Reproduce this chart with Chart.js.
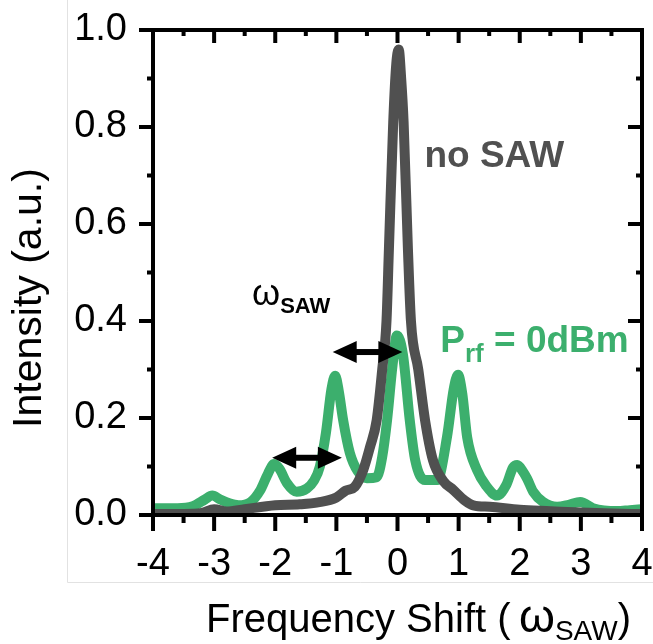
<!DOCTYPE html>
<html>
<head>
<meta charset="utf-8">
<title>Frequency Shift spectrum</title>
<script src="https://cdn.jsdelivr.net/npm/chart.js@4.4.1/dist/chart.umd.min.js"></script>
<style>
  html, body { margin: 0; padding: 0; background: #fff; }
  #wrap { width: 653px; height: 644px; }
</style>
</head>
<body>
<div id="wrap"><canvas id="spec" width="653" height="644"></canvas></div>
<script>
  // tick values
  var xMajor = [-4, -3, -2, -1, 0, 1, 2, 3, 4];
  var xMinor = [-3.5, -2.5, -1.5, -0.5, 0.5, 1.5, 2.5, 3.5];
  var yMajor = [0, 0.2, 0.4, 0.6, 0.8, 1.0];
  var yMinor = [0.1, 0.3, 0.5, 0.7, 0.9];

  // no SAW (grey)
  var noSawX = [-4, -3.5, -3.2, -3.0, -2.8, -2.5, -2.0, -1.6, -1.3, -1.0, -0.85, -0.7, -0.56, -0.45,
    -0.34, -0.25, -0.18, -0.14, -0.07, -0.02, 0.02, 0.06, 0.1, 0.17, 0.22, 0.34, 0.45, 0.58, 0.75,
    0.91, 1.1, 1.24, 1.51, 2.0, 2.5, 3.0, 3.5, 4.0];
  var noSawY = [0.002, 0.002, 0.004, 0.012, 0.007, 0.012, 0.02, 0.022, 0.026, 0.036, 0.05, 0.058, 0.093, 0.14,
    0.196, 0.3, 0.4, 0.55, 0.81, 0.93, 0.96, 0.9, 0.81, 0.55, 0.4, 0.3, 0.196, 0.113, 0.07,
    0.052, 0.03, 0.02, 0.017, 0.011, 0.008, 0.005, 0.003, 0.002];

  // Prf = 0dBm (green)
  var rfX = [-4, -3.6, -3.35, -3.15, -3.03, -2.9, -2.75, -2.6, -2.4, -2.25, -2.12, -2.02, -1.93, -1.81,
    -1.65, -1.48, -1.37, -1.27, -1.17, -1.08, -1.02, -0.96, -0.89, -0.78, -0.65, -0.5, -0.34, -0.25,
    -0.17, -0.08, -0.01, 0.09, 0.2, 0.29, 0.45, 0.65, 0.81, 0.92, 0.99, 1.06, 1.14, 1.3, 1.45, 1.63,
    1.78, 1.89, 1.96, 2.05, 2.12, 2.22, 2.38, 2.61, 2.8, 2.99, 3.2, 3.59, 3.8, 4.0];
  var rfY = [0.014, 0.014, 0.018, 0.032, 0.04, 0.032, 0.024, 0.02, 0.027, 0.05, 0.085, 0.105, 0.095, 0.066,
    0.048, 0.055, 0.07, 0.1, 0.17, 0.26, 0.287, 0.255, 0.196, 0.128, 0.09, 0.076, 0.078, 0.12,
    0.196, 0.31, 0.37, 0.33, 0.196, 0.113, 0.072, 0.072, 0.161, 0.26, 0.289, 0.25, 0.16, 0.093, 0.06, 0.04,
    0.062, 0.098, 0.103, 0.09, 0.075, 0.048, 0.027, 0.017, 0.021, 0.027, 0.014, 0.008, 0.01, 0.012];

  // double arrows (data units): x start, x end, y
  var arrowFrom = [-1.06, -2.05];
  var arrowTo = [0.08, -0.91];
  var arrowAt = [0.336, 0.118];

  var GREY = '#505050';
  var GREEN = '#3caf6d';
  var FONT = '"Liberation Sans", Arial, sans-serif';

  function pairs(xs, ys) {
    return xs.map(function (x, i) { return { x: x, y: ys[i] }; });
  }

  function setTicks(values) {
    return function (scale) {
      scale.ticks = values.map(function (v) { return { value: v }; });
    };
  }

  function drawArrow(ctx, x1, x2, y) {
    var head = 24, half = 11;
    ctx.save();
    ctx.fillStyle = '#000';
    ctx.strokeStyle = '#000';
    ctx.lineWidth = 6;
    ctx.beginPath();
    ctx.moveTo(x1 + head - 2, y);
    ctx.lineTo(x2 - head + 2, y);
    ctx.stroke();
    ctx.beginPath();
    ctx.moveTo(x1, y);
    ctx.lineTo(x1 + head, y - half);
    ctx.lineTo(x1 + head, y + half);
    ctx.closePath();
    ctx.fill();
    ctx.beginPath();
    ctx.moveTo(x2, y);
    ctx.lineTo(x2 - head, y - half);
    ctx.lineTo(x2 - head, y + half);
    ctx.closePath();
    ctx.fill();
    ctx.restore();
  }

  // text with a subscript part
  function drawSub(ctx, parts, x, y) {
    parts.forEach(function (p) {
      ctx.font = p.font;
      ctx.fillStyle = p.color;
      if (p.at != null) x = p.at;
      ctx.fillText(p.text, x, y + (p.dy || 0));
      x += ctx.measureText(p.text).width;
    });
    return x;
  }

  var backdrop = {
    id: 'backdrop',
    beforeDraw: function (chart) {
      var ctx = chart.ctx;
      ctx.save();
      ctx.strokeStyle = '#e2e2e2';
      ctx.lineWidth = 1;
      ctx.beginPath();
      ctx.moveTo(67.5, 0);
      ctx.lineTo(67.5, 582.5);
      ctx.lineTo(653, 582.5);
      ctx.stroke();
      ctx.restore();
    }
  };

  var frame = {
    id: 'frame',
    afterDatasetsDraw: function (chart) {
      var ctx = chart.ctx, a = chart.chartArea;
      var xs = chart.scales.x, ys = chart.scales.y;
      ctx.save();
      ctx.strokeStyle = '#000';
      ctx.lineWidth = 4;
      ctx.lineCap = 'butt';
      ctx.beginPath();
      function tick(x1, y1, x2, y2) { ctx.moveTo(x1, y1); ctx.lineTo(x2, y2); }
      xMajor.forEach(function (v) {
        var px = xs.getPixelForValue(v);
        tick(px, a.bottom, px, a.bottom + 16);
        tick(px, a.top, px, a.top + 13);
      });
      xMinor.forEach(function (v) {
        var px = xs.getPixelForValue(v);
        tick(px, a.bottom, px, a.bottom + 8);
        tick(px, a.top, px, a.top + 6);
      });
      yMajor.forEach(function (v) {
        var py = ys.getPixelForValue(v);
        tick(a.left, py, a.left - 14, py);
        tick(a.right, py, a.right - 14, py);
      });
      yMinor.forEach(function (v) {
        var py = ys.getPixelForValue(v);
        tick(a.left, py, a.left - 6, py);
        tick(a.right, py, a.right - 6, py);
      });
      ctx.stroke();
      ctx.strokeRect(a.left, a.top, a.right - a.left, a.bottom - a.top);
      ctx.restore();
    },
    afterDraw: function (chart) {
      var ctx = chart.ctx;
      var xs = chart.scales.x, ys = chart.scales.y;
      ctx.save();
      ctx.textBaseline = 'alphabetic';
      ctx.textAlign = 'left';

      // axis titles
      drawSub(ctx, [
        { text: 'Frequency Shift (', font: '40px ' + FONT, color: '#000' },
        { text: '\u03c9', font: '46px ' + FONT, color: '#000', at: 519 },
        { text: 'SAW', font: '28px ' + FONT, color: '#000', dy: 8 },
        { text: ')', font: '40px ' + FONT, color: '#000' }
      ], 206, 632);

      ctx.save();
      ctx.translate(30, 298);
      ctx.rotate(-Math.PI / 2);
      ctx.textAlign = 'center';
      ctx.textBaseline = 'middle';
      ctx.font = '41px ' + FONT;
      ctx.fillStyle = '#000';
      ctx.fillText('Intensity (a.u.)', 0, 0);
      ctx.restore();

      // annotations
      ctx.font = 'bold 37px ' + FONT;
      ctx.fillStyle = GREY;
      ctx.fillText('no SAW', xs.getPixelForValue(0.44), ys.getPixelForValue(0.718));

      drawSub(ctx, [
        { text: '\u03c9', font: '36px ' + FONT, color: '#000' },
        { text: 'SAW', font: 'bold 22px ' + FONT, color: '#000', dy: 8 }
      ], xs.getPixelForValue(-2.38), ys.getPixelForValue(0.433));

      drawSub(ctx, [
        { text: 'P', font: 'bold 37px ' + FONT, color: GREEN },
        { text: 'rf', font: 'bold 26px ' + FONT, color: GREEN, dy: 10 },
        { text: ' = 0dBm', font: 'bold 37px ' + FONT, color: GREEN }
      ], xs.getPixelForValue(0.7), ys.getPixelForValue(0.336));

      for (var i = 0; i < arrowFrom.length; i++) {
        drawArrow(ctx, xs.getPixelForValue(arrowFrom[i]), xs.getPixelForValue(arrowTo[i]),
          ys.getPixelForValue(arrowAt[i]));
      }
      ctx.restore();
    }
  };

  var lineStyle = {
    showLine: true,
    borderWidth: 10,
    pointRadius: 0,
    cubicInterpolationMode: 'monotone',
    borderJoinStyle: 'round',
    borderCapStyle: 'round'
  };

  new Chart(document.getElementById('spec'), {
    type: 'scatter',
    data: {
      datasets: [
        Object.assign({ label: 'no SAW', data: pairs(noSawX, noSawY), borderColor: GREY }, lineStyle),
        Object.assign({ label: 'Prf = 0dBm', data: pairs(rfX, rfY), borderColor: GREEN }, lineStyle)
      ]
    },
    options: {
      responsive: false,
      animation: false,
      devicePixelRatio: 1,
      layout: { padding: { left: 0, top: 30, right: 11, bottom: 0 } },
      plugins: { legend: { display: false }, tooltip: { enabled: false } },
      scales: {
        x: {
          type: 'linear',
          min: -4,
          max: 4,
          afterBuildTicks: setTicks(xMajor),
          afterFit: function (s) { s.height = 129; s.paddingLeft = 0; s.paddingRight = 0; },
          grid: { display: false, drawTicks: false },
          border: { display: false },
          ticks: {
            padding: 27,
            color: '#000',
            font: { family: FONT, size: 38 },
            maxRotation: 0,
            autoSkip: false,
            callback: function (v) { return String(v); }
          }
        },
        y: {
          min: 0,
          max: 1,
          afterBuildTicks: setTicks(yMajor),
          afterFit: function (s) { s.width = 153; s.paddingTop = 0; s.paddingBottom = 0; },
          grid: { display: false, drawTicks: false },
          border: { display: false },
          ticks: {
            padding: 26,
            color: '#000',
            font: { family: FONT, size: 38 },
            autoSkip: false,
            callback: function (v) { return v.toFixed(1); }
          }
        }
      }
    },
    plugins: [backdrop, frame]
  });
</script>
</body>
</html>
